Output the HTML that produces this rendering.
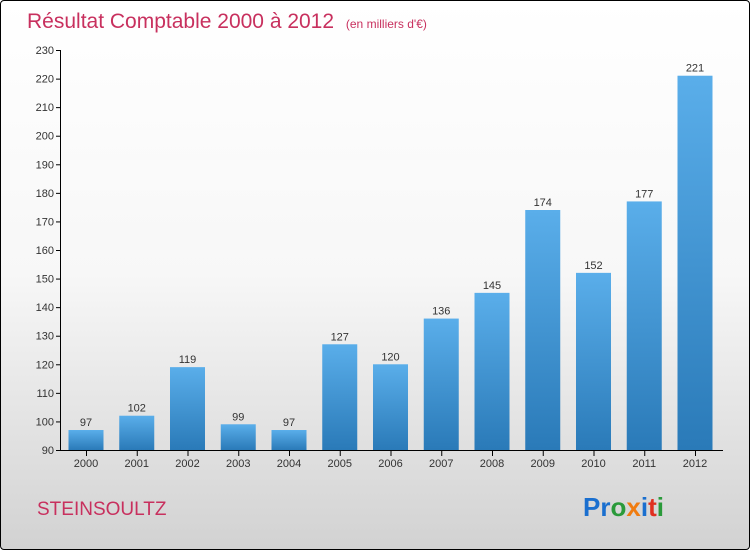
<!DOCTYPE html>
<html><head><meta charset="utf-8"><style>
body{margin:0}
#c{position:relative;width:748px;height:548px;border:1px solid #000;border-radius:4px;overflow:hidden;background:linear-gradient(#fff 0%,#f7f7f7 50%,#d2d2d2 100%);font-family:"Liberation Sans",sans-serif}
</style></head><body>
<div id="c">
<svg width="748" height="548" xmlns="http://www.w3.org/2000/svg">
<defs><linearGradient id="g" x1="0" y1="0" x2="0" y2="1"><stop offset="0" stop-color="#5aaeea"/><stop offset="1" stop-color="#2a7ab8"/></linearGradient></defs>
<text x="26" y="27" font-size="21" fill="#c8305e">Résultat Comptable 2000 à 2012 <tspan font-size="12" dx="6">(en milliers d'€)</tspan></text>
<g id="axes"></g><g id="bars"></g>
<text x="36" y="514" font-size="19" fill="#c8305e">STEINSOULTZ</text>
<text x="582" y="515" font-size="26" font-weight="bold"><tspan fill="#1a6fcf">Pr</tspan><tspan fill="#2a9a3a">o</tspan><tspan fill="#f07c10">x</tspan><tspan fill="#1a6fcf">i</tspan><tspan fill="#e03020">t</tspan><tspan fill="#2a9a3a">i</tspan></text>
</svg></div>
<script>
const years=["2000","2001","2002","2003","2004","2005","2006","2007","2008","2009","2010","2011","2012"];
const values=[97,102,119,99,97,127,120,136,145,174,152,177,221];
const ticks=[90,100,110,120,130,140,150,160,170,180,190,200,210,220,230];
const NS="http://www.w3.org/2000/svg";
const y=v=>449-(v-90)*400/140;
const x=i=>85+i*50.75;
const ax=document.getElementById('axes'),bg=document.getElementById('bars');
function mk(t,a,p){const e=document.createElementNS(NS,t);for(const k in a)e.setAttribute(k,a[k]);p.appendChild(e);return e;}
let l=mk('line',{x1:59.5,x2:59.5,y1:49,y2:449,stroke:'#000'},ax);


l=mk('line',{x1:59,x2:722,y1:449.5,y2:449.5,stroke:'#000'},ax);


ticks.forEach(t=>{
 mk('line',{x1:55,x2:60,y1:y(t)+.5,y2:y(t)+.5,stroke:'#000'},ax);
 const e=mk('text',{x:53,y:y(t)+4,'font-size':11,'text-anchor':'end',fill:'#333'},ax);e.textContent=t;
 
 
});
years.forEach((yr,i)=>{
 const r=mk('rect',{x:x(i)-17.5,y:y(values[i]),width:35,height:449-y(values[i]),fill:'url(#g)'},bg);
 
 
 mk('line',{x1:x(i)+.5,x2:x(i)+.5,y1:450,y2:455,stroke:'#000'},ax);
 const t=mk('text',{x:x(i),y:466,'font-size':11,'text-anchor':'middle',fill:'#333'},ax);t.textContent=yr;
 
 
 const v=mk('text',{x:x(i),y:y(values[i])-4,'font-size':11,'text-anchor':'middle',fill:'#333'},bg);v.textContent=values[i];
 
 
});
</script>
</body></html>
